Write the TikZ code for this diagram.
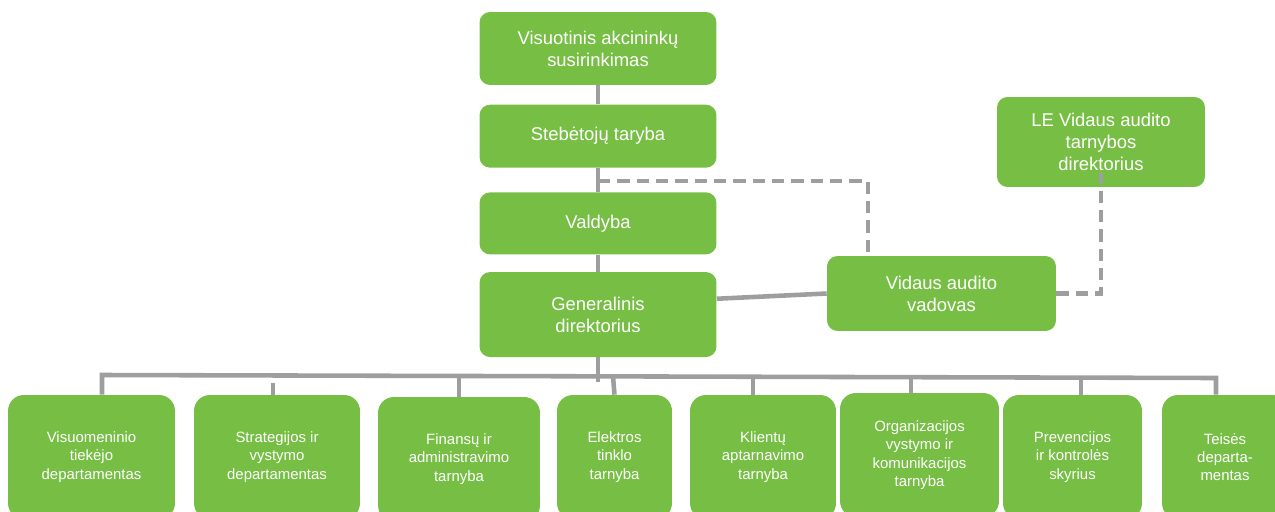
\documentclass[tikz,border=0pt]{standalone}
\usepackage{fontspec}
\setmainfont{Liberation Sans}
\usetikzlibrary{positioning}
\definecolor{boxgreen}{RGB}{119,190,68}
\definecolor{linegray}{RGB}{158,158,158}

\begin{document}
\begin{tikzpicture}[x=0.02cm,y=-0.02cm,
  top node/.style={rectangle,rounded corners=6pt,fill=boxgreen,text=white,align=center,
    minimum width=4.74cm,font=\fontsize{10.5}{12.5}\selectfont},
  dept node/.style={rectangle,rounded corners=9pt,fill=boxgreen,text=white,align=center,
    minimum height=2.48cm,inner sep=1pt,font=\fontsize{8.5}{10.4}\selectfont},
  link/.style={linegray,line width=2.6pt},
  dash link/.style={linegray,line width=2.4pt,dash pattern=on 7pt off 4pt}]
  \clip (0,0) rectangle (1275,511);
  \node[top node,minimum height=1.46cm] (1) at (598,48.5) {Visuotinis akcininkų\\susirinkimas};
  \node[top node,minimum height=1.26cm] (2) [below=0.38cm of 1] {Stebėtojų taryba};
  \node[top node,minimum height=1.24cm] (3) [below=0.48cm of 2] {Valdyba};
  \node[top node,minimum height=1.7cm] (4) [below=0.34cm of 3] {Generalinis\\direktorius};
  \node[top node,minimum width=4.58cm,minimum height=1.5cm] (5) at (941.5,293.5) {Vidaus audito\\vadovas};
  \node[top node,minimum width=4.16cm,minimum height=1.8cm] (6) at (1101,142) {LE Vidaus audito\\tarnybos\\direktorius};
  % departamentai
  \node[dept node,minimum width=3.34cm] (7) at (91.5,457) {Visuomeninio\\tiekėjo\\departamentas};
  \node[dept node,minimum width=3.32cm] (8) at (277,457) {Strategijos ir\\vystymo\\departamentas};
  \node[dept node,minimum width=3.24cm] (9) at (459,459) {Finansų ir\\administravimo\\tarnyba};
  \node[dept node,minimum width=2.3cm] (10) at (614.5,457) {Elektros\\tinklo\\tarnyba};
  \node[dept node,minimum width=2.92cm] (11) at (763,457) {Klientų\\aptarnavimo\\tarnyba};
  \node[dept node,minimum width=3.18cm] (12) at (919.5,455) {Organizacijos\\vystymo ir\\komunikacijos\\tarnyba};
  \node[dept node,minimum width=2.78cm] (13) at (1072.5,457) {Prevencijos\\ir kontrolės\\skyrius};
  \node[dept node,minimum width=2.52cm] (14) at (1225,457) {Teisės\\departa-\\mentas};
  \path[link]
    (1) edge (2)
    (2) edge (3)
    (3) edge (4);
  \coordinate (b0) at (598,382);
  \coordinate (bl) at (102,375);
  \coordinate (br) at (1216,378);
  \draw[link] (4) -- (b0);
  \draw[link] (bl |- 7.north) -- (bl) -- (br) -- (br |- 14.north);
  \foreach \n/\x/\y in {8/273/383,9/459/376,11/753/377,12/911/377,13/1081/378} {
    \coordinate (s\n) at (\x,\y);
    \draw[link] (s\n) -- (s\n |- \n.north);
  }
  \coordinate (s10) at (613,376);
  \draw[link] (s10) -- (10.north);
  \draw[link] ([yshift=9pt]4.east) -- (5.west);
  % audito linijos
  \coordinate (d1) at (868,181);
  \draw[dash link] (2.south |- d1) -- (d1) -- (d1 |- 5.north);
  \draw[dash link] (5.east) -| ([yshift=8pt]6.south);
\end{tikzpicture}
\end{document}
